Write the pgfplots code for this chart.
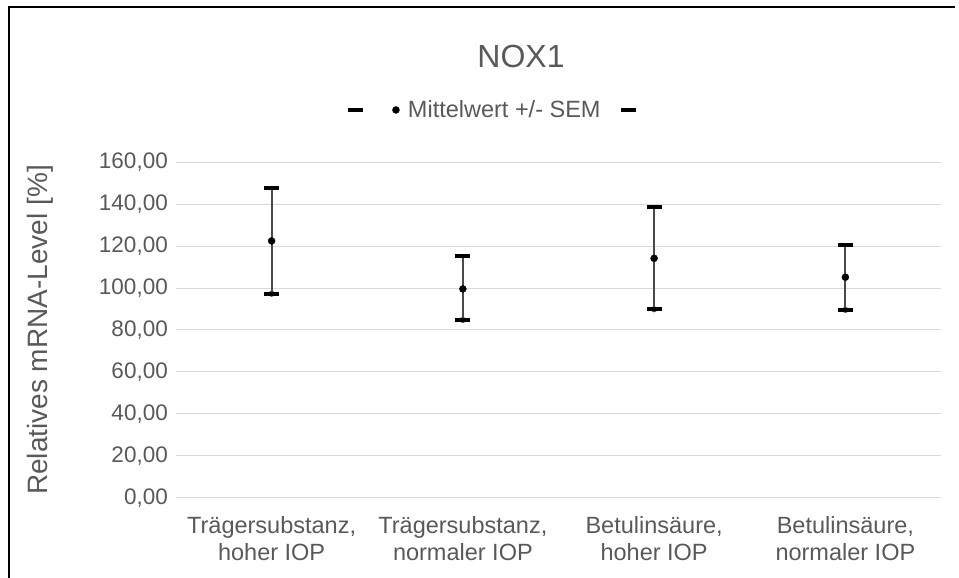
\documentclass[border=0pt]{standalone}
\usepackage{fontspec}
\setmainfont{Liberation Sans}
\usepackage{pgfplots}
\usepackage{pgfplotstable}
\pgfplotsset{compat=1.18}
\pgfplotsset{pointlegend/.style={legend image code/.code={\draw[##1] plot coordinates {(0pt,0pt)};}}}
\definecolor{txt}{HTML}{595959}
\definecolor{grd}{HTML}{D9D9D9}
\definecolor{barc}{HTML}{4A4A4A}
\pgfplotstableread{
x mean high low
0.5 122.5 147.6 97.3
1.5 99.6 115.5 84.8
2.5 114.2 138.9 89.9
3.5 105.2 120.6 89.6
}\data
\begin{document}
\begin{tikzpicture}[x=1pt,y=1pt]
\path[use as bounding box] (0,0) rectangle (959,578);
\draw[line width=1.5pt, black] (9,0) -- (9,571) -- (955,571);
\node[anchor=base, font=\fontsize{32}{38}\selectfont, text=txt] at (521,510) {NOX1};
\begin{axis}[
  at={(176pt,80.3pt)}, anchor=south west,
  scale only axis, width=765pt, height=335.4pt,
  xmin=0, xmax=4, ymin=0, ymax=160,
  ytick={0,20,...,160},
  xtick={0.5,1.5,2.5,3.5},
  xticklabels={{Trägersubstanz,\\hoher IOP},{Trägersubstanz,\\normaler IOP},{Betulinsäure,\\hoher IOP},{Betulinsäure,\\normaler IOP}},
  axis line style={draw=none},
  major tick length=0pt,
  ymajorgrids, grid style={grd, line width=1pt},
  /pgf/number format/.cd, fixed, fixed zerofill, precision=2, use comma, assume math mode=true, /pgfplots/.cd,
  yticklabel style={font=\fontsize{22.5}{27}\selectfont, text=txt, anchor=east, inner sep=0pt, xshift=-8pt},
  xticklabel style={font=\fontsize{23.5}{26.7}\selectfont, text=txt, align=center, anchor=north, inner sep=0pt, yshift=-19pt},
  ylabel={Relatives mRNA-Level [\%]},
  ylabel style={font=\fontsize{28}{32}\selectfont, text=txt, at={(axis description cs:-0.178,0.5)}, anchor=center},
  legend columns=3,
  legend style={draw=none, fill=none, inner sep=0pt, outer sep=0pt,
    at={(0.2248,1.156)}, anchor=west,
    font=\fontsize{23.5}{27}\selectfont, text=txt,
    nodes={inner sep=0pt},
    column sep=0pt,
    /tikz/every odd column/.append style={column sep=8.5pt},
    /tikz/every even column/.append style={column sep=20pt}},
]
\addplot[only marks, mark=none, forget plot, barc, line width=2pt,
  error bars/.cd, y dir=plus, y explicit, error mark=none,
  error bar style={draw=barc, line width=2pt}]
  table[x=x, y=low, y error expr=\thisrow{high}-\thisrow{low}] {\data};
\addplot[only marks, mark=-, mark size=7.5pt, mark options={line width=4pt, black}, pointlegend]
  table[x=x, y=high] {\data};
\addlegendentry{}
\addplot[only marks, mark=*, mark size=3.5pt, black, pointlegend]
  table[x=x, y=mean] {\data};
\addlegendentry{Mittelwert +/- SEM}
\addplot[only marks, mark=-, mark size=7.5pt, mark options={line width=4pt, black}, pointlegend]
  table[x=x, y=low] {\data};
\addlegendentry{}
\end{axis}
\end{tikzpicture}
\end{document}
